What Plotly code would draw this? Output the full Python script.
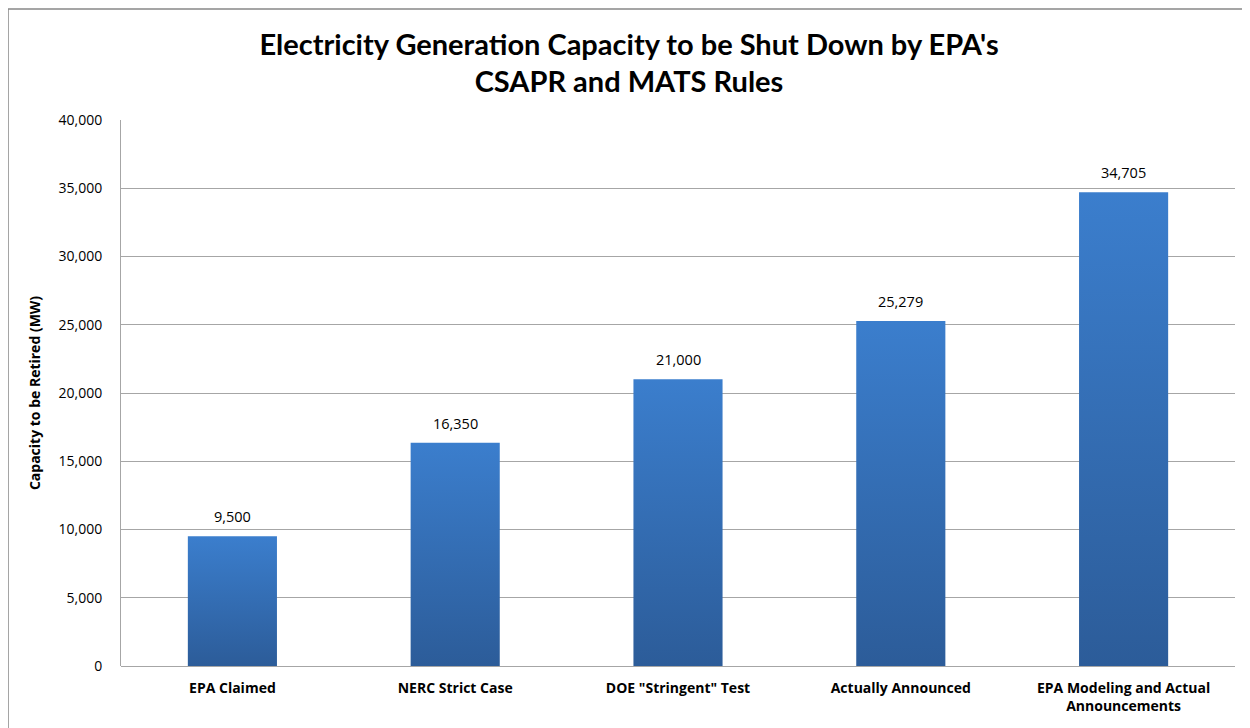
import plotly.graph_objects as go

categories = ["EPA Claimed", "NERC Strict Case", "DOE \"Stringent\" Test",
              "Actually Announced", "EPA Modeling and Actual<br>Announcements"]
values = [9500, 16350, 21000, 25279, 34705]
tick_vals = [0, 5000, 10000, 15000, 20000, 25000, 30000, 35000, 40000]
tick_text = ["0", "5,000", "10,000", "15,000", "20,000", "25,000", "30,000", "35,000", "40,000"]
labels = [f"{v:,}" for v in values]

W, H = 1242, 720
L, R, T, B = 113, 15, 112, 62
pw, ph = W - L - R, H - T - B
half = 0.2
TOP_C, BOT_C = "#3B7ECD", "#2C5C99"

fig = go.Figure()
for i, v in enumerate(values):
    fig.add_trace(go.Scatter(
        x=[i - half, i + half, i + half, i - half, i - half],
        y=[0, 0, v, v, 0],
        mode="lines", line=dict(width=0), fill="toself",
        fillgradient=dict(type="vertical", colorscale=[[0, BOT_C], [1, TOP_C]]),
        hoverinfo="skip", showlegend=False,
    ))

for i, (v, lab) in enumerate(zip(values, labels)):
    fig.add_annotation(x=i, y=v, text=lab, showarrow=False,
                       xanchor="center", yanchor="bottom", yshift=8,
                       font=dict(family="Open Sans", size=14.5, color="#000000"))

fig.update_layout(
    width=W, height=H,
    margin=dict(l=L, r=R, t=T, b=B),
    paper_bgcolor="white", plot_bgcolor="white",
    showlegend=False,
    title=dict(
        text="<b>Electricity Generation Capacity to be Shut Down by EPA's<br>CSAPR and MATS Rules</b>",
        x=0.5, xanchor="center", xref="container", y=1 - 46.5 / H, yanchor="middle",
        yref="container",
        font=dict(family="Lato", size=29, color="#000000"),
    ),
    font=dict(family="Open Sans", color="#000000"),
    xaxis=dict(
        range=[-0.5, len(values) - 0.5],
        tickvals=list(range(len(categories))),
        ticktext=[f"<b>{c}</b>" for c in categories],
        tickfont=dict(family="Open Sans", size=14, color="#000000"),
        showgrid=False, showline=False, zeroline=False, ticks="",
        ticklabelstandoff=12,
    ),
    yaxis=dict(
        range=[0, 40000], tickvals=tick_vals, ticktext=tick_text,
        tickfont=dict(family="Open Sans", size=14, color="#000000"),
        showgrid=True, gridcolor="#A6A6A6", gridwidth=1,
        showline=True, linecolor="#A6A6A6", linewidth=1,
        zeroline=True, zerolinecolor="#A6A6A6", zerolinewidth=1,
        ticks="", ticklabelstandoff=15,
        title=dict(text="<b>Capacity to be Retired (MW)</b>",
                   font=dict(family="Open Sans", size=14, color="#000000"), standoff=14),
    ),
)

# chart border
fig.add_shape(type="rect", xref="paper", yref="paper",
              x0=(0 - L) / pw, x1=(W - 2 - L) / pw,
              y0=-(B + 30) / ph, y1=1 + (T - 1) / ph,
              line=dict(color="#888888", width=1.5), fillcolor="rgba(0,0,0,0)", layer="below")

fig.write_html("out.html")
